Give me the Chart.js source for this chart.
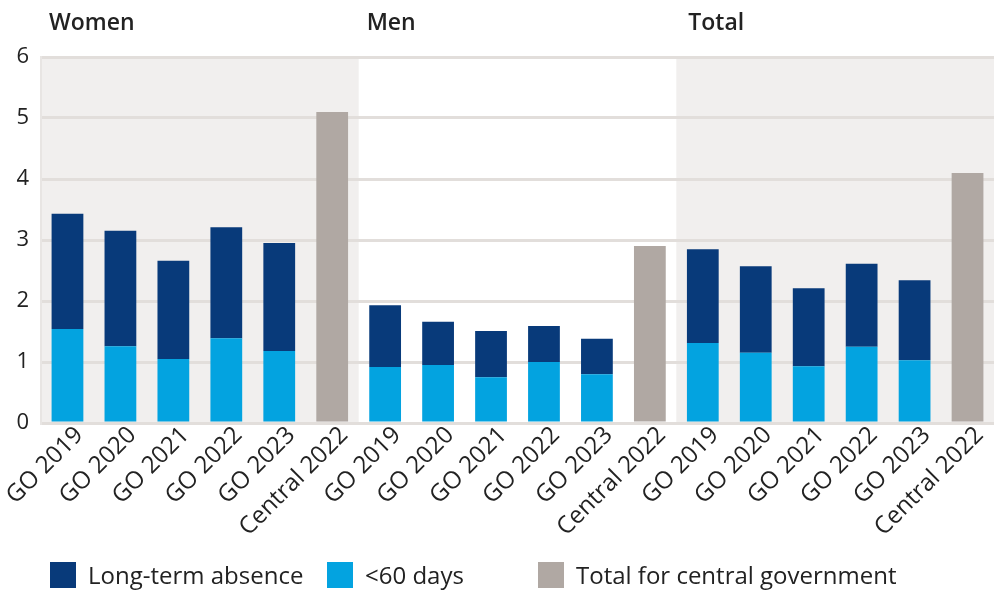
<!DOCTYPE html>
<html>
<head>
<meta charset="utf-8">
<script src="https://cdn.jsdelivr.net/npm/chart.js@4/dist/chart.umd.min.js"></script>
<style>
  body { margin: 0; background: #fff; font-family: "Open Sans", sans-serif; }
  #wrap { position: relative; width: 994px; height: 592px; }
  #legend { position: absolute; top: 560px; left: 0; width: 994px; height: 30px; }
  .item { position: absolute; top: 0; display: flex; align-items: center; font-size: 24px; color: #222; line-height: 30px; }
  .box { width: 26px; height: 26px; margin-right: 12px; }
</style>
</head>
<body>
<div id="wrap">
  <canvas id="chart" width="994" height="592"></canvas>
  <div id="legend"></div>
</div>
<script>
const labels = [
  "GO 2019", "GO 2020", "GO 2021", "GO 2022", "GO 2023", "Central 2022",
  "GO 2019", "GO 2020", "GO 2021", "GO 2022", "GO 2023", "Central 2022",
  "GO 2019", "GO 2020", "GO 2021", "GO 2022", "GO 2023", "Central 2022",
];
const groups = ["Women", "Men", "Total"];

const shortAbsence = [1.54, 1.26, 1.05, 1.39, 1.18, null,
  0.92, 0.95, 0.75, 1.0, 0.8, null,
  1.31, 1.15, 0.93, 1.25, 1.03, null];
const longAbsence = [1.89, 1.89, 1.61, 1.82, 1.77, null,
  1.01, 0.71, 0.76, 0.59, 0.58, null,
  1.54, 1.42, 1.28, 1.36, 1.31, null];
const centralTotal = [null, null, null, null, null, 5.1,
  null, null, null, null, null, 2.9,
  null, null, null, null, null, 4.1];

const yTicks = [0, 1, 2, 3, 4, 5, 6];

const DARK = "#083a7a";
const LIGHT = "#03a3e0";
const GREY = "#b0a8a3";
const SHADE = "#f1efee";

const groupPlugin = {
  id: "groups",
  beforeDraw(chart) {
    const { ctx, chartArea: a, scales: { x } } = chart;
    const step = x.getPixelForValue(1) - x.getPixelForValue(0);
    ctx.save();
    groups.forEach((g, i) => {
      const left = x.getPixelForValue(i * 6) - step / 2;
      const right = x.getPixelForValue(i * 6 + 5) + step / 2;
      if (i !== 1) {
        ctx.fillStyle = SHADE;
        ctx.fillRect(left, a.top, right - left, a.bottom - a.top);
      }
      ctx.fillStyle = "#222";
      ctx.font = "600 23px 'Open Sans'";
      ctx.textBaseline = "alphabetic";
      ctx.fillText(g, left + (i === 2 ? 12 : 8), 30);
    });
    ctx.restore();
  },
};

new Chart(document.getElementById("chart"), {
  type: "bar",
  data: {
    labels: labels,
    datasets: [
      { label: "<60 days", data: shortAbsence, backgroundColor: LIGHT, stack: "s" },
      { label: "Long-term absence", data: longAbsence, backgroundColor: DARK, stack: "s" },
      { label: "Total for central government", data: centralTotal, backgroundColor: GREY, stack: "s" },
    ],
  },
  options: {
    responsive: false,
    animation: false,
    layout: { padding: { top: 57, right: 0, left: 0, bottom: 0 } },
    plugins: { legend: { display: false }, tooltip: { enabled: false } },
    datasets: { bar: { categoryPercentage: 0.6, barPercentage: 1 } },
    scales: {
      x: {
        stacked: true,
        grid: { display: false },
        border: { display: true, color: "#e2dedb", width: 3 },
        ticks: {
          minRotation: 45, maxRotation: 45, autoSkip: false,
          color: "#222", font: { family: "Open Sans", size: 24 }, padding: -10,
          labelOffset: 12,
        },
        afterFit(s) { s.height = 169; },
      },
      y: {
        stacked: true,
        min: 0, max: 6,
        afterBuildTicks(s) { s.ticks = yTicks.map(v => ({ value: v })); },
        grid: { color: "#e2dedb", lineWidth: 3, drawTicks: false },
        border: { display: true, color: "#e8e5e3", width: 2 },
        ticks: { color: "#222", font: { family: "Open Sans", size: 22 }, padding: 12 },
        afterFit(s) { s.width = 41; },
      },
    },
  },
  plugins: [groupPlugin],
});

const legendItems = [
  { text: "Long-term absence", color: DARK, x: 50 },
  { text: "<60 days", color: LIGHT, x: 327 },
  { text: "Total for central government", color: GREY, x: 538 },
];
const legend = document.getElementById("legend");
legendItems.forEach(it => {
  const el = document.createElement("div");
  el.className = "item";
  el.style.left = it.x + "px";
  const box = document.createElement("span");
  box.className = "box";
  box.style.background = it.color;
  el.appendChild(box);
  el.appendChild(document.createTextNode(it.text));
  legend.appendChild(el);
});
</script>
</body>
</html>
